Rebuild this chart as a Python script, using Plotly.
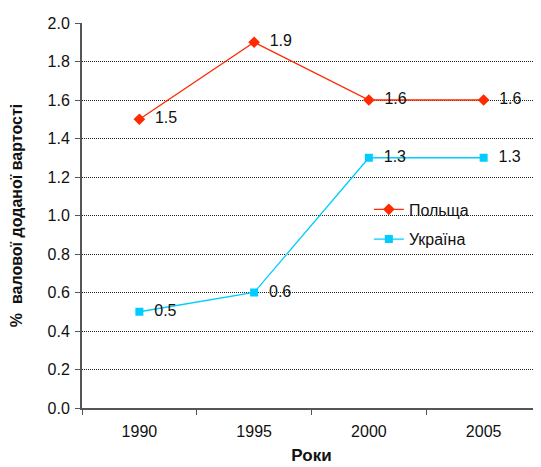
import plotly.graph_objects as go

years = ["1990", "1995", "2000", "2005"]
poland = [1.5, 1.9, 1.6, 1.6]
ukraine = [0.5, 0.6, 1.3, 1.3]
y_ticks = [0.0, 0.2, 0.4, 0.6, 0.8, 1.0, 1.2, 1.4, 1.6, 1.8, 2.0]

font = "Liberation Sans, Arial, sans-serif"
pad = "\u00a0\u00a0"
fig = go.Figure()
fig.add_trace(go.Scatter(
    x=years, y=poland, name="Польща", mode="lines+markers+text", legendgroup="a",
    line=dict(color="#FF2A00", width=1.3),
    marker=dict(symbol="diamond", size=9, color="#FF2A00"),
    text=[pad + f"{v:.1f}" for v in poland], textposition="middle right",
    textfont=dict(family=font, size=16, color="#111111"),
))
fig.add_trace(go.Scatter(
    x=years, y=ukraine, name="Україна", mode="lines+markers+text", legendgroup="b",
    line=dict(color="#00CCFF", width=1.3),
    marker=dict(symbol="square", size=8, color="#00CCFF"),
    text=[pad + f"{v:.1f}" for v in ukraine], textposition="middle right",
    textfont=dict(family=font, size=16, color="#111111"),
))
fig.update_layout(
    width=533, height=459,
    margin=dict(l=74, r=0, t=15, b=59, autoexpand=False),
    paper_bgcolor="white", plot_bgcolor="white",
    font=dict(family=font, size=16, color="#111111"),
    showlegend=True,
    legend=dict(x=0.625, y=0.56, xanchor="left", yanchor="top",
                bgcolor="rgba(0,0,0,0)", font=dict(size=16),
                tracegroupgap=6, itemwidth=30),
    xaxis=dict(type="category", range=[-0.5, 3.5], tickson="boundaries",
               ticks="outside", ticklen=5, tickcolor="#555555",
               showline=True, linecolor="#555555", linewidth=2,
               showgrid=False, zeroline=False, ticklabelstandoff=8,
               title=dict(text="<b>Роки</b>", font=dict(size=17), standoff=10),
               tickfont=dict(size=16), automargin=False),
    yaxis=dict(range=[0, 2.0], tickvals=y_ticks, ticktext=[f"{v:.1f}" for v in y_ticks],
               ticks="outside", ticklen=5, tickcolor="#555555",
               showline=True, linecolor="#555555", linewidth=2,
               showgrid=True, gridcolor="#222222", griddash="1px,1px", gridwidth=1,
               zeroline=False, ticklabelstandoff=2,
               title=dict(text="<b>%\u00a0\u00a0валової доданої вартості</b>", font=dict(size=16), standoff=28),
               tickfont=dict(size=16), automargin=False),
)
fig.write_html("out.html")
